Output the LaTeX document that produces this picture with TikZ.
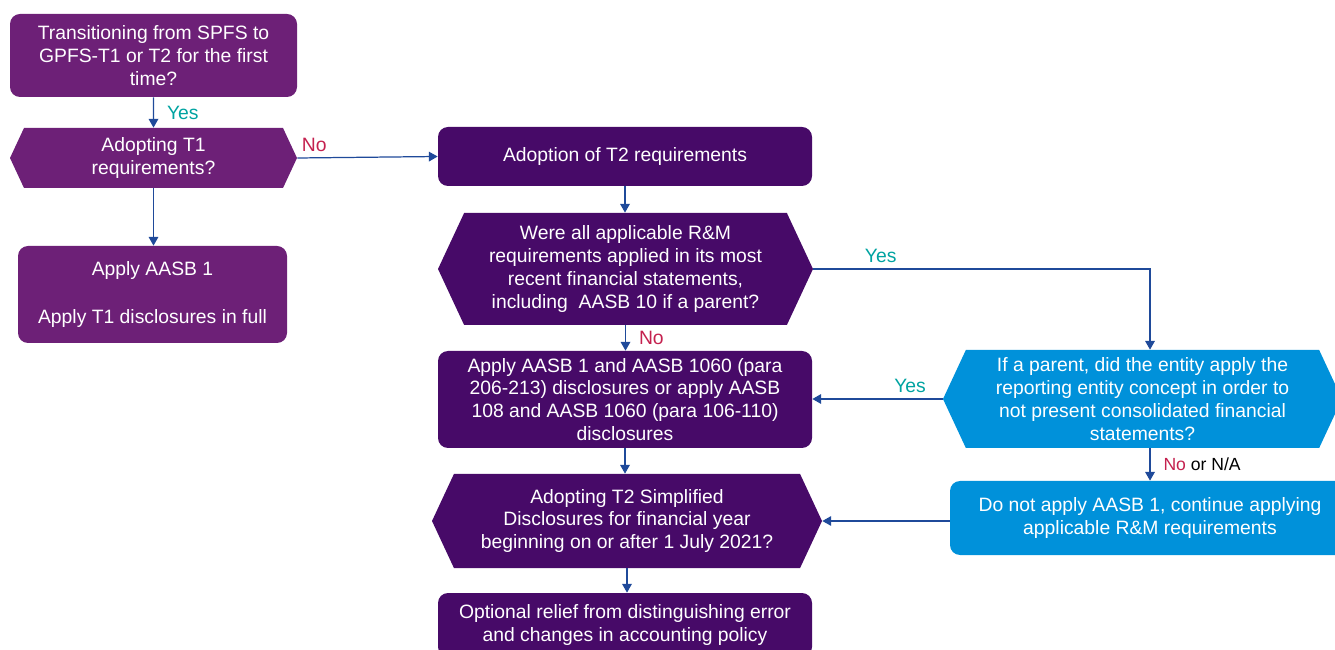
\documentclass[tikz,border=0pt]{standalone}
\usepackage{fontspec}
\setmainfont{Liberation Sans}
\usepackage{xcolor}
\usepackage{tikz}
\usetikzlibrary{arrows.meta,positioning,shapes.symbols}
\definecolor{violetT}{HTML}{6D2077}
\definecolor{purpleT}{HTML}{470A68}
\definecolor{blueT}{HTML}{0091DA}
\definecolor{lineT}{HTML}{1F4A9A}
\definecolor{yesT}{HTML}{00A3A1}
\definecolor{noT}{HTML}{C4214F}
\tikzset{
  flow/.style={-{Triangle[length=5pt,width=5.5pt]}, line width=0.7pt, lineT},
  boxV/.style={rectangle, rounded corners=0.2cm, fill=violetT, text=white, align=center, inner sep=0pt, font=\fontsize{11}{13}\selectfont},
  boxP/.style={boxV, fill=purpleT},
  boxB/.style={boxV, fill=blueT},
  hexV/.style={signal, signal to=east and west, signal pointer angle=130, fill=violetT, text=white, align=center, inner sep=0pt, font=\fontsize{11}{13}\selectfont},
  hexP/.style={hexV, fill=purpleT},
  hexB/.style={hexV, fill=blueT},
  yes/.style={text=yesT, font=\fontsize{11}{13}\selectfont},
  no/.style={text=noT, font=\fontsize{11}{13}\selectfont},
}

\begin{document}
\begin{tikzpicture}
\clip (0,0) rectangle (26.7,-13);
% left column
\node[boxV, minimum width=5.74cm, minimum height=1.66cm] (trans) at (3.07,-1.11) {Transitioning from SPFS to\\GPFS-T1 or T2 for the first\\time?};
\node[hexV, minimum width=5.74cm, minimum height=1.2cm] (tone) at (3.07,-3.16) {Adopting T1\\requirements?};
\node[boxV, minimum width=5.38cm, minimum height=1.94cm] (aasb) at (3.05,-5.89) {Apply AASB 1\\[0.5cm]Apply T1 disclosures in full};
% middle column
\node[boxP, minimum width=7.48cm, minimum height=1.18cm] (ttwo) at (12.5,-3.13) {Adoption of T2 requirements};
\node[hexP, minimum width=7.5cm, minimum height=2.24cm] (rm) at (12.51,-5.38) {Were all applicable R\&M\\requirements applied in its most\\recent financial statements,\\including\ \ AASB 10 if a parent?};
\node[boxP, minimum width=7.48cm, minimum height=1.94cm] (apply) at (12.5,-7.99) {Apply AASB 1 and AASB 1060 (para\\206-213) disclosures or apply AASB\\108 and AASB 1060 (para 106-110)\\disclosures};
\node[hexP, minimum width=7.8cm, minimum height=1.88cm] (simp) at (12.54,-10.42) {Adopting T2 Simplified\\Disclosures for financial year\\beginning on or after 1 July 2021?};
\node[boxP, minimum width=7.48cm, minimum height=1.28cm] (relief) at (12.5,-12.5) {Optional relief from distinguishing error\\and changes in accounting policy};
% right column
\node[hexB, minimum width=7.98cm, minimum height=1.96cm] (parent) at (22.85,-7.98) {If a parent, did the entity apply the\\reporting entity concept in order to\\not present consolidated financial\\statements?};
\node[boxB, minimum width=8cm, minimum height=1.48cm] (noapply) at (23.0,-10.36) {Do not apply AASB 1, continue applying\\applicable R\&M requirements};
% connectors
\draw[flow] (trans) -- node[yes, right=4pt] {Yes} (tone);
\draw[flow] (tone.south) -- (tone.south |- aasb.north);
\draw[flow] (tone.east) -- node[no, pos=0.12, above] {No} (ttwo.west);
\draw[flow] (ttwo.south) -- (ttwo.south |- rm.north);
\draw[flow] (rm.south) -- node[no, right=4pt] {No} (rm.south |- apply.north);
\draw[flow] (rm.east) -| node[yes, pos=0.1, above] {Yes} (parent.north -| noapply.north);
\draw[flow] (parent.west) -- node[yes, pos=0.25, above] {Yes} (parent.west -| apply.east);
\draw[flow] (parent.south -| noapply.north) -- node[right=4pt, text=black] {\textcolor{noT}{No} or N/A} (noapply.north);
\draw[flow] (noapply.west |- simp.east) -- (simp.east);
\draw[flow] (apply.south) -- (apply.south |- simp.north);
\draw[flow] (simp.south) -- (simp.south |- relief.north);
\end{tikzpicture}
\end{document}
